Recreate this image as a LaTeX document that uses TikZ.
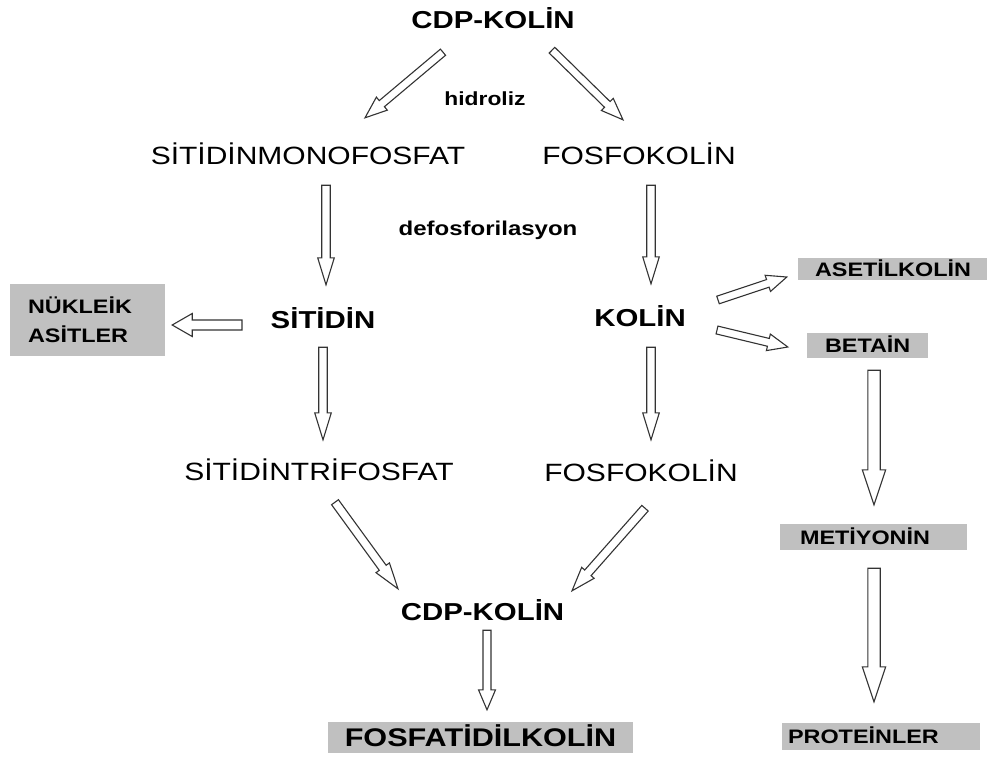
\documentclass[tikz,border=0pt]{standalone}
\usepackage{fontspec}
\newfontfamily\regfont{Liberation Sans}[FakeStretch=1.2]
\newfontfamily\bldfont{Liberation Sans}[FakeStretch=1.2]
\usetikzlibrary{calc}
\definecolor{boxgray}{RGB}{192,192,192}

% outline arrow: shaft half width, head half width, head length, tail, tip
\newcommand{\blkarrow}[5]{%
  \path #4 coordinate (bt) #5 coordinate (bp) ($(bp)!#3pt!(bt)$) coordinate (bh);
  \draw[blkarr] ($(bt)!#1pt!90:(bp)$) -- ($(bh)!#1pt!90:(bp)$) -- ($(bh)!#2pt!90:(bp)$)
    -- (bp) -- ($(bh)!#2pt!-90:(bp)$) -- ($(bh)!#1pt!-90:(bp)$) -- ($(bt)!#1pt!-90:(bp)$) -- cycle;}

\tikzset{
  reg/.style={inner sep=0pt, text height=18pt, text depth=0pt,
    font=\regfont\fontsize{25}{30}\selectfont},
  bld/.style={inner sep=0pt, text height=18pt, text depth=0pt,
    font=\bldfont\bfseries\fontsize{24.5}{29}\selectfont},
  note/.style={inner sep=0pt, font=\bldfont\bfseries\fontsize{#1}{#1}\selectfont},
  graybox/.style={fill=boxgray, inner ysep=0pt,
    font=\bldfont\bfseries\fontsize{19.5}{23}\selectfont},
  onebox/.style={graybox, align=left, text height=14pt, text depth=0pt},
  blkarr/.style={draw=black!80, fill=white, line width=1.1pt, line join=miter}
}

\begin{document}
\begin{tikzpicture}[x=1pt,y=-1pt]
  \useasboundingbox (0,0) rectangle (995,756);

  % left and right columns
  \node[bld] (cdpa) at (493,19) {CDP-KOLİN};
  \node[note=19, anchor=base] (hyd) at (485,105) {hidroliz};
  \node[reg] (smp) at (308,155) {SİTİDİNMONOFOSFAT};
  \node[reg] (fka) at (639,155) {FOSFOKOLİN};
  \node[note=20, anchor=base] (dfs) at (488,235) {defosforilasyon};
  \node[bld] (sit) at (323,319) {SİTİDİN};
  \node[bld] (kol) at (640,317) {KOLİN};
  \node[reg] (sitp) at (319,471) {SİTİDİNTRİFOSFAT};
  \node[reg] (fkb) at (641,472) {FOSFOKOLİN};
  \node[bld] (cdpb) at (482.5,611.5) {CDP-KOLİN};

  % gray boxes
  \node[graybox, align=left, inner xsep=18pt, text width=119pt, minimum height=72pt]
    (nuk) at (87.5,320) {NÜKLEİK\\[6pt]ASİTLER};
  \node[onebox, inner xsep=17pt, text width=155pt, minimum height=22pt] (ase) at (892.5,269) {ASETİLKOLİN};
  \node[onebox, inner xsep=18pt, text width=85pt, minimum height=25pt] (bet) at (867.5,345.5) {BETAİN};
  \node[onebox, inner xsep=20pt, text width=147pt, minimum height=26pt] (met) at (873.5,537) {METİYONİN};
  \node[onebox, inner xsep=6pt, text width=186pt, minimum height=27pt] (pro) at (881,736.5) {PROTEİNLER};
  \node[graybox, inner xsep=0pt, text height=18pt, text depth=0pt, minimum width=305pt, minimum height=31pt,
    font=\bldfont\bfseries\fontsize{25.5}{30}\selectfont] (fos) at (480.5,737.5) {FOSFATİDİLKOLİN};

  % arrows
  \blkarrow{4}{8.5}{22}{($(cdpa.south)+(-50,24)$)}{($(smp.north)+(57,-28)$)}
  \blkarrow{4}{8.5}{22}{($(cdpa.south)+(59,22)$)}{($(fka.north)+(-16,-26)$)}
  \blkarrow{4.25}{8.3}{27}{($(smp.south)+(18,21)$)}{($(sit.north)+(3,-25)$)}
  \blkarrow{4.25}{8.3}{27}{($(fka.south)+(12,21)$)}{($(kol.north)+(11,-24)$)}
  \blkarrow{5}{11.5}{20}{($(sit)+(-81,6)$)}{($(nuk.east)+(7,5)$)}
  \blkarrow{4.25}{8.3}{27}{($(sit.south)+(0,19)$)}{($(sitp.north)+(4,-22)$)}
  \blkarrow{4.25}{8.3}{27}{($(kol.south)+(11,21)$)}{($(fkb.north)+(10,-23)$)}
  \blkarrow{4}{8.5}{20}{($(kol)+(78,-17)$)}{($(ase.west)+(-11,8)$)}
  \blkarrow{4}{8.5}{20}{($(kol)+(77,13)$)}{($(bet.west)+(-19,1.5)$)}
  \blkarrow{6.2}{11.7}{35}{($(bet.south)+(6.5,12)$)}{($(met.north)+(0.5,-19)$)}
  \blkarrow{6.2}{11.7}{35}{($(met.south)+(0.5,18)$)}{($(pro.north)+(-7,-21)$)}
  \blkarrow{4.25}{8.3}{26}{($(sitp.south)+(16,22)$)}{($(cdpb.north)+(-84.5,-13.5)$)}
  \blkarrow{4.25}{8.3}{24}{($(fkb.south)+(4,27)$)}{($(cdpb.north)+(89.5,-11.5)$)}
  \blkarrow{4}{8.5}{20}{($(cdpb.south)+(4.5,9.5)$)}{($(fos.north)+(6.5,-12)$)}

\end{tikzpicture}
\end{document}
